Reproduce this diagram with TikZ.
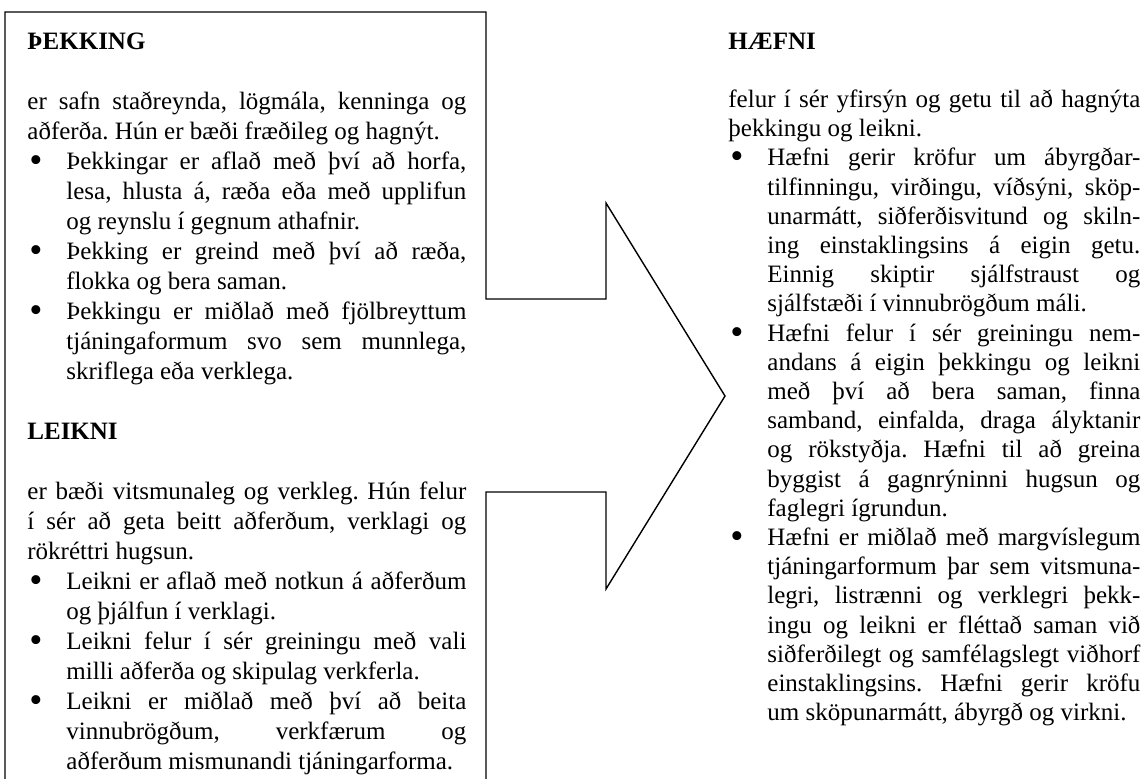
\documentclass[tikz,border=0pt]{standalone}
\usepackage{fontspec}
\usepackage{graphicx}
\setmainfont{Liberation Serif}
\hbadness=10000
\hfuzz=2pt
\newlength\bulind
\setlength\bulind{19.5pt}
\newcommand\bul{\makebox[\bulind][l]{\hspace{1pt}\raisebox{-0.12em}{\scalebox{1.5}{\textbullet}}}}
\newcommand\pad{\kern\bulind}
\newcommand\jl[1]{\hbox to\hsize{\spaceskip=0.25em plus 1em minus 0.08em\relax #1}}
\newcommand\el[1]{\hbox to\hsize{\spaceskip=0.25em minus 0.08em\relax #1\hfil}}
\newcommand\gap{\hbox{}}
\begin{document}
\begin{tikzpicture}[x=0.5pt, y=-0.5pt,
    col/.style={anchor=base west, inner sep=0pt, align=left}]
            \useasboundingbox (0,0) rectangle (1145,778);
            \frenchspacing
            \draw[black, line width=0.7pt] (5,12) -- (486,12) -- (486,299) -- (606,299) -- (606,203) -- (725,396)
                -- (606,589) -- (606,492) -- (486,492) -- (486,800) -- (5,800) -- cycle;
            \node[col, text width=219.5pt, font=\fontsize{12.5pt}{15pt}\selectfont] (thekking) at (27,49) {\vtop{\hsize=219.5pt
                \el{\textbf{ÞEKKING}}
                \gap
                \jl{er safn staðreynda, lögmála, kenninga og}
                \el{aðferða. Hún er bæði fræðileg og hagnýt.}
                \jl{\bul Þekkingar er aflað með því að horfa,}
                \jl{\pad lesa, hlusta á, ræða eða með upplifun}
                \el{\pad og reynslu í gegnum athafnir.}
                \jl{\bul Þekking er greind með því að ræða,}
                \el{\pad flokka og bera saman.}
                \jl{\bul Þekkingu er miðlað með fjölbreyttum}
                \jl{\pad tjáningaformum svo sem munnlega,}
                \el{\pad skriflega eða verklega.}
                \gap
                \el{\textbf{LEIKNI}}
                \gap
                \jl{er bæði vitsmunaleg og verkleg. Hún felur}
                \jl{í sér að geta beitt aðferðum, verklagi og}
                \el{rökréttri hugsun.}
                \jl{\bul Leikni er aflað með notkun á aðferðum}
                \el{\pad og þjálfun í verklagi.}
                \jl{\bul Leikni felur í sér greiningu með vali}
                \el{\pad milli aðferða og skipulag verkferla.}
                \jl{\bul Leikni er miðlað með því að beita}
                \jl{\pad vinnubrögðum, verkfærum og}
                \el{\pad aðferðum mismunandi tjáningarforma.}}};
            \node[col, text width=206pt, font=\fontsize{12.5pt}{14.6pt}\selectfont] (haefni) at (728,49) {\vtop{\hsize=206pt
                \el{\textbf{HÆFNI}}
                \gap
                \jl{felur í sér yfirsýn og getu til að hagnýta}
                \el{þekkingu og leikni.}
                \jl{\bul Hæfni gerir kröfur um ábyrgðar-}
                \jl{\pad tilfinningu, virðingu, víðsýni, sköp-}
                \jl{\pad unarmátt, siðferðisvitund og skiln-}
                \jl{\pad ing einstaklingsins á eigin getu.}
                \jl{\pad Einnig skiptir sjálfstraust og}
                \el{\pad sjálfstæði í vinnubrögðum máli.}
                \jl{\bul Hæfni felur í sér greiningu nem-}
                \jl{\pad andans á eigin þekkingu og leikni}
                \jl{\pad með því að bera saman, finna}
                \jl{\pad samband, einfalda, draga ályktanir}
                \jl{\pad og rökstyðja. Hæfni til að greina}
                \jl{\pad byggist á gagnrýninni hugsun og}
                \el{\pad faglegri ígrundun.}
                \jl{\bul Hæfni er miðlað með margvíslegum}
                \jl{\pad tjáningarformum þar sem vitsmuna-}
                \jl{\pad legri, listrænni og verklegri þekk-}
                \jl{\pad ingu og leikni er fléttað saman við}
                \jl{\pad siðferðilegt og samfélagslegt viðhorf}
                \jl{\pad einstaklingsins. Hæfni gerir kröfu}
                \el{\pad um sköpunarmátt, ábyrgð og virkni.}}};

        \end{tikzpicture}
\end{document}
